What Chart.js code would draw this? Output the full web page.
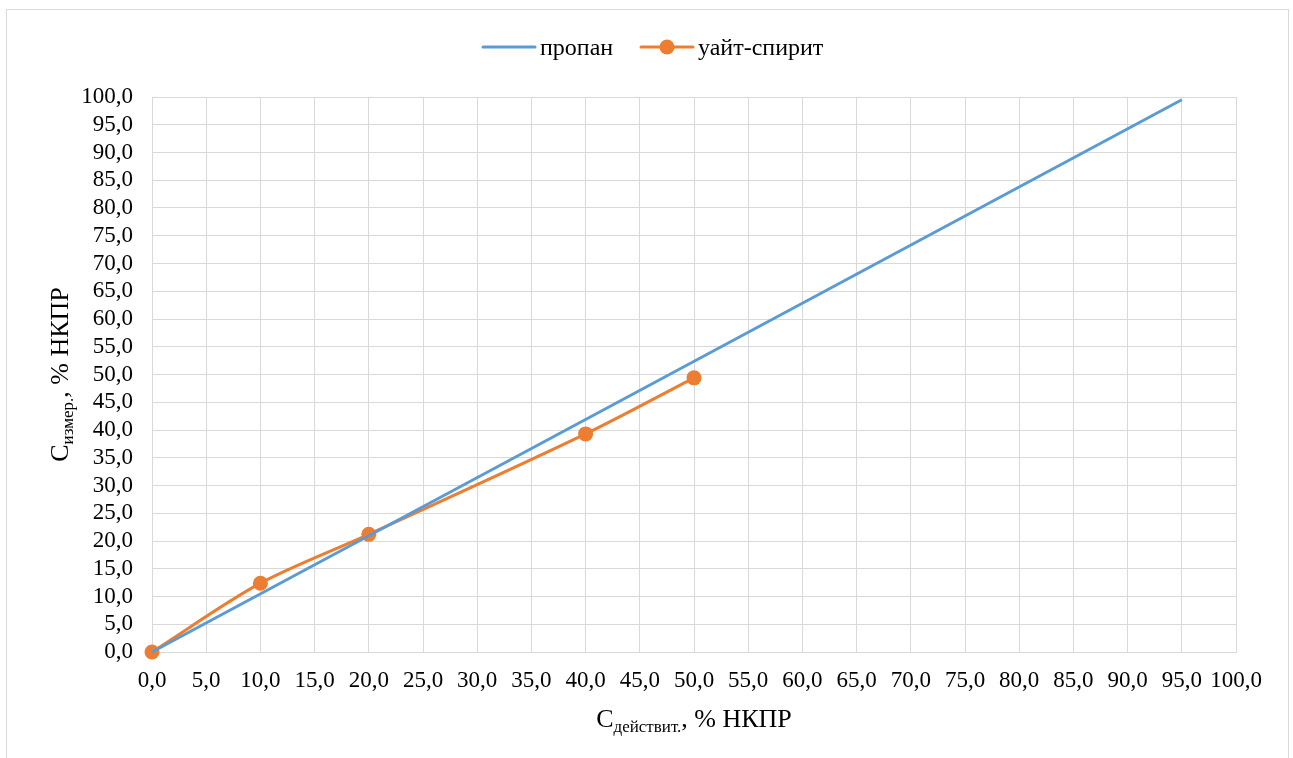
<!DOCTYPE html>
<html>
<head>
<meta charset="utf-8">
<script src="https://cdn.jsdelivr.net/npm/chart.js@4"></script>
<style>
  html, body { margin: 0; padding: 0; background: #fff; }
  #frame { position: absolute; left: 6px; top: 9px; width: 1283px; height: 760px; border: 1px solid #d9d9d9; box-sizing: border-box; }
  #wrap { position: absolute; left: 0; top: 0; width: 1293px; height: 758px; }
</style>
</head>
<body>
<div id="frame"></div>
<div id="wrap"><canvas id="chartCanvas" width="1293" height="758"></canvas></div>
<script>
const propanX = [0, 95];
const propanY = [0, 99.5];
const spiritX = [0, 10, 20, 40, 50];
const spiritY = [0, 12.4, 21.2, 39.3, 49.4];
const seriesNames = ['пропан', 'уайт-спирит'];

const BLUE = '#5B9BD5';
const ORANGE = '#ED7D31';
const FONT = '"Liberation Serif", "Times New Roman", serif';

const fmt = v => v.toFixed(1).replace('.', ',');

// legend + axis titles with subscripts
const extras = {
    id: 'extras',
    afterDraw(chart) {
        const c = chart.ctx;
        const area = chart.chartArea;
        c.save();
        c.fillStyle = '#000';
        c.textBaseline = 'alphabetic';

        // legend
        const ly = 47;
        c.lineWidth = 3;
        c.lineCap = 'round';
        c.strokeStyle = BLUE;
        c.beginPath(); c.moveTo(483, ly); c.lineTo(535, ly); c.stroke();
        c.font = '24px ' + FONT;
        c.textAlign = 'left';
        c.fillText(seriesNames[0], 540, ly + 8);
        c.strokeStyle = ORANGE;
        c.beginPath(); c.moveTo(641, ly); c.lineTo(693, ly); c.stroke();
        c.fillStyle = ORANGE;
        c.beginPath(); c.arc(667, ly, 7.5, 0, Math.PI * 2); c.fill();
        c.fillStyle = '#000';
        c.fillText(seriesNames[1], 698, ly + 8);

        const drawTitle = (parts, cx, cy) => {
            let w = 0;
            parts.forEach(p => { c.font = p.size + 'px ' + FONT; w += c.measureText(p.t).width; });
            let x = cx - w / 2;
            parts.forEach(p => {
                c.font = p.size + 'px ' + FONT;
                c.fillText(p.t, x, cy + p.dy);
                x += c.measureText(p.t).width;
            });
        };
        const xParts = [
            { t: 'С', size: 26, dy: 0 },
            { t: 'действит.', size: 17, dy: 5 },
            { t: ', % НКПР', size: 26, dy: 0 }
        ];
        drawTitle(xParts, (area.left + area.right) / 2, 727);

        const yParts = [
            { t: 'С', size: 26, dy: 0 },
            { t: 'измер.', size: 17, dy: 5 },
            { t: ', % НКПР', size: 26, dy: 0 }
        ];
        c.translate(68, (area.top + area.bottom) / 2);
        c.rotate(-Math.PI / 2);
        drawTitle(yParts, 0, 0);
        c.restore();
    }
};

const ctx = document.getElementById('chartCanvas').getContext('2d');
let chart = new Chart(ctx, {
    type: 'scatter',
    data: {
        datasets: [{
            label: seriesNames[0],
            data: propanX.map((x, i) => ({ x: x, y: propanY[i] })),
            showLine: true,
            borderColor: BLUE,
            borderWidth: 3,
            pointRadius: 0,
            clip: false,
            fill: false
        }, {
            label: seriesNames[1],
            data: spiritX.map((x, i) => ({ x: x, y: spiritY[i] })),
            showLine: true,
            borderColor: ORANGE,
            backgroundColor: ORANGE,
            borderWidth: 3,
            pointRadius: 7.5,
            pointBorderWidth: 0,
            tension: 0.3,
            clip: false,
            fill: false
        }]
    },
    options: {
        responsive: false,
        animation: false,
        layout: { padding: { left: 0, top: 97, right: 57, bottom: 0 } },
        plugins: {
            legend: { display: false },
            tooltip: { enabled: false }
        },
        scales: {
            x: {
                type: 'linear',
                min: 0, max: 100,
                afterFit: s => { s.height = 106; },
                grid: { color: '#d9d9d9', lineWidth: 1, drawTicks: false },
                border: { color: '#d9d9d9' },
                ticks: {
                    stepSize: 5, padding: 15, color: '#000', maxRotation: 0, autoSkip: false,
                    font: { family: FONT, size: 23 },
                    callback: v => fmt(v)
                }
            },
            y: {
                type: 'linear',
                min: 0, max: 100,
                afterFit: s => { s.width = 152; },
                grid: { color: '#d9d9d9', lineWidth: 1, drawTicks: false },
                border: { color: '#d9d9d9' },
                ticks: {
                    stepSize: 5, padding: 19, color: '#000', autoSkip: false,
                    font: { family: FONT, size: 23 },
                    callback: v => fmt(v)
                }
            }
        }
    },
    plugins: [extras]
});
</script>
</body>
</html>
